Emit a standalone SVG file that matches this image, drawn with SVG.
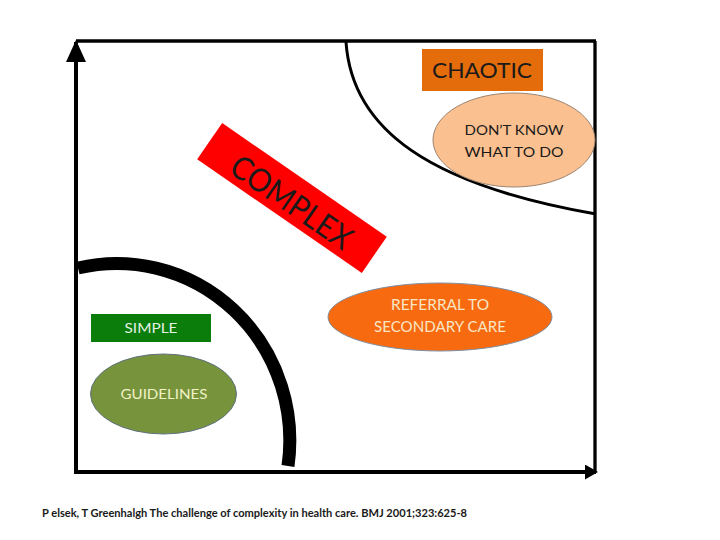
<svg xmlns="http://www.w3.org/2000/svg" width="720" height="540" viewBox="0 0 720 540">
  <style>
    .lbl { font-family: Lato, "Liberation Sans", sans-serif; text-anchor: middle; }
    .dark { fill: #1a1a1a; }
    .ax { stroke: #000; fill: none; }
  </style>
  <defs>
    <marker id="headBig" markerUnits="userSpaceOnUse" markerWidth="24" markerHeight="22" refX="20" refY="10" orient="auto">
      <path d="M0,0 L22,10 L0,20 Z" fill="#000"/>
    </marker>
    <marker id="headSmall" markerUnits="userSpaceOnUse" markerWidth="14" markerHeight="16" refX="11" refY="7.5" orient="auto">
      <path d="M0,0 L13,7.5 L0,15 Z" fill="#000"/>
    </marker>
  </defs>
  <rect width="720" height="540" fill="#fff"/>

  <g id="connectors">
    <line class="ax" x1="76" y1="41" x2="596" y2="41" stroke-width="3.3"/>
    <line class="ax" x1="595" y1="41" x2="595" y2="472" stroke-width="3.3"/>
    <line class="ax" x1="76" y1="474" x2="76" y2="42" stroke-width="4" marker-end="url(#headBig)"/>
    <line class="ax" x1="74" y1="472" x2="596" y2="472" stroke-width="4" marker-end="url(#headSmall)"/>
  </g>

  <g id="boundaries">
    <path id="simple-boundary" d="M 78 268 A 173 177 0 0 1 288 466" fill="none" stroke="#000" stroke-width="13"/>
    <path id="chaotic-boundary" d="M 346 42 C 352 130, 430 185, 596 214" fill="none" stroke="#000" stroke-width="3"/>
  </g>

  <g id="chaotic">
    <rect x="422" y="49" width="121" height="42" fill="#E46C0A"/>
    <text class="lbl dark" x="482" y="78" font-size="22" textLength="100" lengthAdjust="spacingAndGlyphs">CHAOTIC</text>
  </g>

  <g id="dont-know">
    <ellipse cx="514" cy="140" rx="81" ry="47" fill="#FAC090" stroke="#9C8570" stroke-width="1"/>
    <text class="lbl dark" x="514" y="135" font-size="14" textLength="99" lengthAdjust="spacingAndGlyphs">DON’T KNOW</text>
    <text class="lbl dark" x="514" y="157" font-size="14" textLength="99" lengthAdjust="spacingAndGlyphs">WHAT TO DO</text>
  </g>

  <g id="complex" transform="translate(292 198) rotate(34.6)">
    <rect x="-100" y="-22" width="200" height="44" fill="#FF0000"/>
    <text class="lbl dark" x="2" y="15" font-size="32" textLength="140" lengthAdjust="spacingAndGlyphs">COMPLEX</text>
  </g>

  <g id="referral">
    <ellipse cx="440" cy="317" rx="112" ry="34" fill="#F86A10" stroke="#7F8FA0" stroke-width="1"/>
    <text class="lbl" x="440" y="310" font-size="14.5" fill="#F7E6C6" textLength="98" lengthAdjust="spacingAndGlyphs">REFERRAL TO</text>
    <text class="lbl" x="440" y="332" font-size="14.5" fill="#F7E6C6" textLength="132" lengthAdjust="spacingAndGlyphs">SECONDARY CARE</text>
  </g>

  <g id="simple">
    <rect x="91" y="314" width="120" height="28" fill="#0A7D0A"/>
    <text class="lbl" x="151" y="333" font-size="14" fill="#E4F2E4" textLength="53" lengthAdjust="spacingAndGlyphs">SIMPLE</text>
  </g>

  <g id="guidelines">
    <ellipse cx="163.5" cy="394" rx="73" ry="40" fill="#77933C" stroke="#5F7080" stroke-width="1"/>
    <text class="lbl" x="164" y="399" font-size="14" fill="#F2F2C8" textLength="87" lengthAdjust="spacingAndGlyphs">GUIDELINES</text>
  </g>

  <g id="citation">
    <text x="42" y="517" font-family="Lato, 'Liberation Sans', sans-serif" font-size="11" font-weight="bold" fill="#1a1a1a" textLength="425" lengthAdjust="spacingAndGlyphs">P elsek, T Greenhalgh The challenge of complexity in health care. BMJ 2001;323:625-8</text>
  </g>
</svg>
